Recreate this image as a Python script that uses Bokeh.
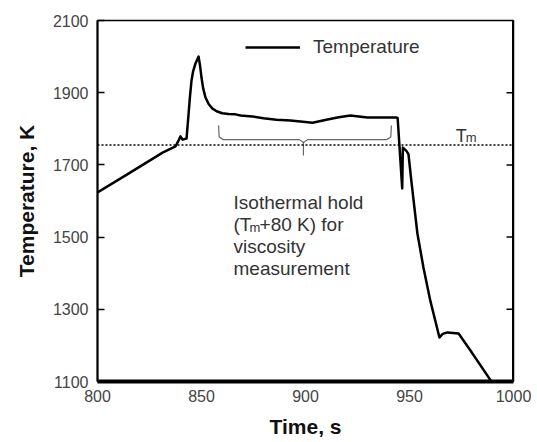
import math
from bokeh.plotting import figure
from bokeh.models import Range1d, FixedTicker, Span, Legend, LegendItem, ColumnDataSource
from bokeh.core.properties import value
from bokeh.embed import file_html
from bokeh.resources import INLINE

# ---- data ----
time_s = [800.0, 814.9, 831.3, 837.5, 839.0, 839.9, 840.9, 842.8, 843.8, 844.5, 845.2,
          846.0, 847.1, 848.6, 849.3, 850.0, 850.8, 851.9, 853.5, 855.3, 857.5, 860.0,
          863.0, 866.3, 868.8, 874.5, 879.8, 886.0, 892.8, 903.4, 910.6, 916.0, 921.6,
          929.8, 936.0, 943.8, 944.3, 946.5, 946.8, 948.6, 949.5, 951.0, 953.8, 956.7,
          960.0, 964.4, 966.0, 968.3, 973.6, 979.3, 989.0]
temp_K = [1624, 1676, 1734, 1751, 1768, 1779, 1770, 1773, 1842, 1892, 1934,
          1960, 1981, 2000, 1975, 1942, 1912, 1887, 1868, 1856, 1848, 1843,
          1841, 1840, 1837, 1834, 1829, 1825, 1823, 1817, 1826, 1832, 1837,
          1831, 1831, 1831, 1830, 1635, 1748, 1738, 1730, 1650, 1510, 1416,
          1324, 1222, 1232, 1236, 1233, 1186, 1103]

T_m = 1755
x_ticks = [800, 850, 900, 950, 1000]
y_ticks = [1100, 1300, 1500, 1700, 1900, 2100]
right_ticks = [1300, 1500, 1700, 1900]

# brace annotation (data units)
brace_x = [858.2, 858.5, 860.5, 897.0, 899.0, 899.0, 899.0, 901.0, 939.0, 941.0, 941.3]
brace_y = [1809, 1777, 1770, 1770, 1762, 1726, 1762, 1770, 1770, 1777, 1809]

note_x = 865.4
note_lines_y = [1596, 1535, 1474, 1413]

FONT = "Liberation Sans"

p = figure(width=537, height=442, output_backend="svg", toolbar_location=None,
           x_range=Range1d(800, 1000), y_range=Range1d(1100, 2100),
           min_border_left=97, min_border_right=24, min_border_top=20, min_border_bottom=61,
           background_fill_color="white", border_fill_color="white")
p.grid.visible = False
p.outline_line_color = "black"
p.outline_line_width = 1.5

# axes
xa = p.xaxis[0]
xa.ticker = FixedTicker(ticks=x_ticks)
xa.axis_line_width = 4
xa.axis_line_color = "black"
xa.major_tick_in = 0
xa.major_tick_out = 0
xa.minor_tick_line_color = None
xa.major_label_text_font = FONT
xa.major_label_text_font_size = "16px"
xa.major_label_text_color = "#444444"
xa.major_label_standoff = 8
xa.axis_label = "Time, s"
xa.axis_label_text_font = FONT
xa.axis_label_text_font_style = "bold"
xa.axis_label_text_font_size = "21px"
xa.axis_label_text_color = "#111111"
xa.axis_label_standoff = 10

ya = p.yaxis[0]
ya.ticker = FixedTicker(ticks=y_ticks)
ya.axis_line_width = 2
ya.axis_line_color = "black"
ya.major_tick_in = 7
ya.major_tick_out = 0
ya.major_tick_line_width = 1.5
ya.minor_tick_line_color = None
ya.major_label_text_font = FONT
ya.major_label_text_font_size = "16px"
ya.major_label_text_color = "#444444"
ya.major_label_standoff = 9
ya.axis_label = "Temperature, K"
ya.axis_label_text_font = FONT
ya.axis_label_text_font_style = "bold"
ya.axis_label_text_font_size = "21px"
ya.axis_label_text_color = "#111111"
ya.axis_label_standoff = 12

# right frame edge (thicker) and its inward ticks
p.add_layout(Span(location=1000, dimension="height", line_color="black", line_width=3))
p.ray(x=[1000] * len(right_ticks), y=right_ticks, length=7, length_units="screen",
      angle=math.pi, line_color="black", line_width=1.5)

# Tm dotted line
p.add_layout(Span(location=T_m, dimension="width", line_color="black",
                  line_width=1.5, line_dash="2 2"))

# main curve
src = ColumnDataSource(dict(t=time_s, T=temp_K))
r = p.line("t", "T", source=src, line_color="black", line_width=2.5, line_join="round")

# brace
p.line(brace_x, brace_y, line_color="#666666", line_width=1.2)

# annotation text
tc = "#333333"
p.text(x=[note_x], y=[note_lines_y[0]], text=["Isothermal hold"], text_font=value(FONT),
       text_font_size="19px", text_color=tc, text_baseline="alphabetic")
p.text(x=[note_x], y=[note_lines_y[1]], text=["(T"], text_font=value(FONT),
       text_font_size="19px", text_color=tc, text_baseline="alphabetic")
p.text(x=[note_x], y=[note_lines_y[1]], text=["m"], text_font=value(FONT),
       text_font_size="13px", text_color=tc, text_baseline="alphabetic", x_offset=16, y_offset=3)
p.text(x=[note_x], y=[note_lines_y[1]], text=["+80 K) for"], text_font=value(FONT),
       text_font_size="19px", text_color=tc, text_baseline="alphabetic", x_offset=26)
p.text(x=[note_x], y=[note_lines_y[2]], text=["viscosity"], text_font=value(FONT),
       text_font_size="19px", text_color=tc, text_baseline="alphabetic")
p.text(x=[note_x], y=[note_lines_y[3]], text=["measurement"], text_font=value(FONT),
       text_font_size="19px", text_color=tc, text_baseline="alphabetic")

# Tm label
p.text(x=[972.2], y=[1781], text=["T"], text_font=value(FONT), text_font_size="18px",
       text_color=tc, text_baseline="alphabetic")
p.text(x=[972.2], y=[1781], text=["m"], text_font=value(FONT), text_font_size="13px",
       text_color=tc, text_baseline="alphabetic", x_offset=10, y_offset=2)

# legend
leg = Legend(items=[LegendItem(label="Temperature", renderers=[r])],
             location=(148, 323), padding=0, margin=0, spacing=0,
             glyph_width=55, glyph_height=20, label_standoff=13,
             label_text_font=FONT, label_text_font_size="19px", label_text_color=tc,
             border_line_color=None, background_fill_alpha=0)
p.add_layout(leg, "center")

open("out.html", "w").write(file_html(p, INLINE))
